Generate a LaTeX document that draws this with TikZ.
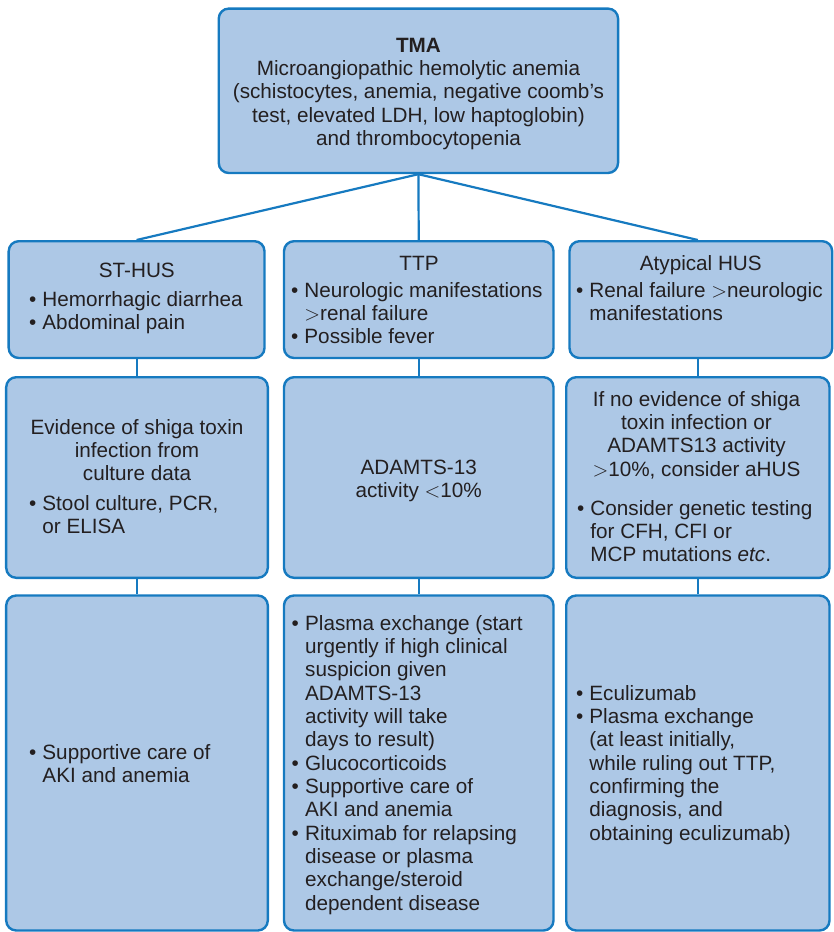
\documentclass[tikz,border=0pt]{standalone}
\usepackage{fontspec}
\setmainfont{Liberation Sans}
\definecolor{boxfill}{RGB}{173,200,230}
\definecolor{boxline}{RGB}{22,122,192}
\definecolor{ink}{RGB}{35,31,32}
% centred lines and bulleted lines, both with one line every \baselineskip
\newcommand{\headlines}[1]{\begin{tabular}{@{}c@{}}#1\end{tabular}}
\newcommand{\bulletlines}[1]{\begin{tabular}{@{}l@{\hskip 6.2bp}l@{}}#1\end{tabular}}
\newcommand{\itemdot}{\textbullet}
\tikzset{
  box/.style={draw=boxline, fill=boxfill, line width=2.4bp, rounded corners=10bp, inner sep=0pt},
  txt/.style={inner sep=0pt, outer sep=0pt, text=ink, font=\fontsize{20.7bp}{23.33bp}\selectfont},
  head/.style={txt, anchor=north},
  blist/.style={txt, anchor=north west},
  link/.style={draw=boxline, line width=2.2bp},
}
\begin{document}
\begin{tikzpicture}[x=1bp,y=-1bp]
\useasboundingbox (0,0) rectangle (834,932);

% boxes
\node[box, minimum width=399.3bp, minimum height=164.4bp] (tma) at (418.4,90.8) {};
\node[box, minimum width=255.8bp, minimum height=116.8bp] (r1l) at (136.6,299.6) {};
\node[box, minimum width=269.5bp, minimum height=116.8bp] (r1m) at (418.75,299.6) {};
\node[box, minimum width=262.7bp, minimum height=116.8bp] (r1r) at (700.85,299.6) {};
\node[box, minimum width=261.6bp, minimum height=200.6bp] (r2l) at (137,477.5) {};
\node[box, minimum width=269.5bp, minimum height=200.6bp] (r2m) at (418.75,477.5) {};
\node[box, minimum width=263.3bp, minimum height=200.6bp] (r2r) at (697.85,477.5) {};
\node[box, minimum width=261.6bp, minimum height=335bp] (r3l) at (137,763) {};
\node[box, minimum width=269.5bp, minimum height=335bp] (r3m) at (418.75,763) {};
\node[box, minimum width=263.3bp, minimum height=335bp] (r3r) at (697.85,763) {};

% connectors
\draw[link] (tma.south) -- (r1m.north);
\draw[link] (tma.south) -- (r1l.north);
\draw[link] (tma.south) -- (r2r.north |- r1r.north);
\draw[link] (r2l.north |- r1l.south) -- (r2l.north);
\draw[link] (r2l.south) -- (r3l.north);
\draw[link] (r1m.south) -- (r2m.north);
\draw[link] (r2m.south) -- (r3m.north);
\draw[link] (r2r.north |- r1r.south) -- (r2r.north);
\draw[link] (r2r.south) -- (r3r.north);

% top box
\node[head] (tmatext) at (418.5,35.7) {\headlines{\textbf{TMA}\\
  Microangiopathic hemolytic anemia\\
  (schistocytes, anemia, negative coomb’s\\
  test, elevated LDH, low haptoglobin)\\
  and thrombocytopenia}};

% first row
\node[head] (sthus) at (136.8,261.4) {\headlines{ST-HUS}};
\node[blist] (sthuslist) at (29,289.7) {\bulletlines{\itemdot & Hemorrhagic diarrhea\\
  \itemdot & Abdominal pain}};
\node[head] (ttp) at (419,253.7) {\headlines{TTP}};
\node[blist] (ttplist) at (291,280.7) {\bulletlines{\itemdot & Neurologic manifestations\\
  & $>$renal failure\\
  \itemdot & Possible fever}};
\node[head] (ahus) at (700.8,253.7) {\headlines{Atypical HUS}};
\node[blist] (ahuslist) at (576,280.7) {\bulletlines{\itemdot & Renal failure $>$neurologic\\
  & manifestations}};

% second row
\node[head] (shiga) at (137,417.7) {\headlines{Evidence of shiga toxin\\
  infection from\\ culture data}};
\node[blist] (shigalist) at (29,493.7) {\bulletlines{\itemdot & Stool culture, PCR,\\
  & or ELISA}};
\node[head] (adamts) at (418.7,457.7) {\headlines{ADAMTS-13\\ activity $<$10\%}};
\node[head] (noshiga) at (696.5,389.7) {\headlines{If no evidence of shiga\\
  toxin infection or\\ ADAMTS13 activity\\ $>$10\%, consider aHUS}};
\node[blist] (genetic) at (577,498.7) {\bulletlines{\itemdot & Consider genetic testing\\
  & for CFH, CFI or\\
  & MCP mutations \textit{etc}.}};

% third row
\node[blist] (stcare) at (29,742.7) {\bulletlines{\itemdot & Supportive care of\\
  & AKI and anemia}};
\node[blist] (ttpcare) at (291.7,613.7) {\bulletlines{\itemdot & Plasma exchange (start\\
  & urgently if high clinical\\
  & suspicion given\\
  & ADAMTS-13\\
  & activity will take\\
  & days to result)\\
  \itemdot & Glucocorticoids\\
  \itemdot & Supportive care of\\
  & AKI and anemia\\
  \itemdot & Rituximab for relapsing\\
  & disease or plasma\\
  & exchange/steroid\\
  & dependent disease}};
\node[blist] (ahuscare) at (576,683.7) {\bulletlines{\itemdot & Eculizumab\\
  \itemdot & Plasma exchange\\
  & (at least initially,\\
  & while ruling out TTP,\\
  & confirming the\\
  & diagnosis, and\\
  & obtaining eculizumab)}};
\end{tikzpicture}
\end{document}
